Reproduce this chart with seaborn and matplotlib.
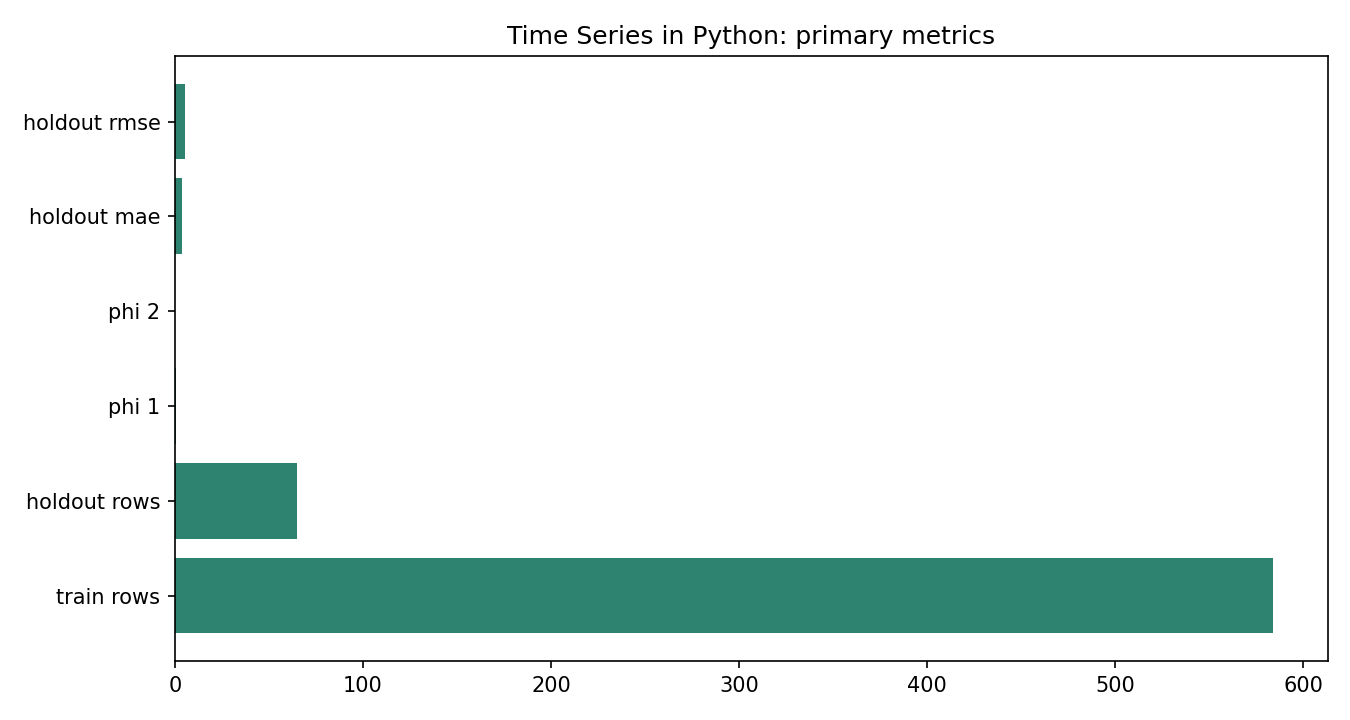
import pandas as pd
import matplotlib
matplotlib.use("Agg")
import matplotlib.pyplot as plt
import seaborn as sns

# metric names and values (top to bottom)
metrics = ["holdout rmse", "holdout mae", "phi 2", "phi 1", "holdout rows", "train rows"]
values = [5.3, 3.7, 0.21, 0.62, 65, 584]

df = pd.DataFrame({"metric": metrics, "value": values})

fig, ax = plt.subplots(figsize=(9, 4.8), dpi=150)
sns.barplot(data=df, x="value", y="metric", order=metrics, color="#2e8270",
            saturation=1, width=0.8, ax=ax)

ax.set_xlim(0, max(values) * 1.05)
n = len(metrics)
ax.set_ylim(n - 1 + 0.69, -0.69)
ax.set_title("Time Series in Python: primary metrics")
ax.set_xlabel("")
ax.set_ylabel("")
for s in ax.spines.values():
    s.set_visible(True)
    s.set_color("black")

plt.subplots_adjust(left=0.1296, right=0.9837, top=0.922, bottom=0.082)
plt.savefig("out.png")
